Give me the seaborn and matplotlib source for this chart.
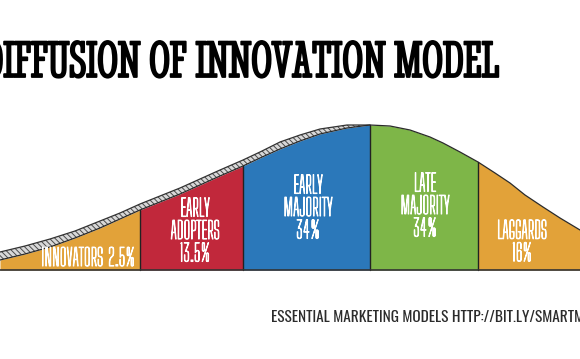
import matplotlib
matplotlib.use("Agg")
import matplotlib.pyplot as plt
import matplotlib.patheffects as pe
import seaborn as sns

# adoption curve: position along the adoption axis and curve height
curve_x = [0, 25, 50, 75, 100, 120, 140, 160, 180, 200, 220, 243, 260, 280, 300, 320, 347, 370,
           390, 410, 430, 443, 460, 478, 495, 510, 525, 543, 560, 580]
curve_h = [10, 16, 23, 32, 42, 51, 60, 68, 76, 85, 94, 104, 112, 121, 129, 136, 142, 145,
           144, 140, 133, 127, 118, 108, 97, 87, 75, 63, 52, 40]
# thickness of the rope-like band on the rising side (0 once past the peak)
band_t = [8, 8, 8, 7, 7, 6, 6, 6, 6, 6, 6, 6, 6, 7, 6, 5, 3, 0,
          0, 0, 0, 0, 0, 0, 0, 0, 0, 0, 0, 0]

# segments of the adopter population
bounds = [0, 140, 243, 370, 478, 580]
groups = ["INNOVATORS", "EARLY\nADOPTERS", "EARLY\nMAJORITY", "LATE\nMAJORITY", "LAGGARDS"]
shares = ["2.5%", "13.5%", "34%", "34%", "16%"]
colors = ["#E2A239", "#C1283B", "#2B78BA", "#7EB648", "#E2A239"]

title = "DIFFUSION OF INNOVATION MODEL"
footer = "ESSENTIAL MARKETING MODELS HTTP://BIT.LY/SMARTM"

sns.set_style("white")
plt.rcParams["hatch.linewidth"] = 0.7

fig = plt.figure(figsize=(5.8, 3.59), dpi=100)
ax = fig.add_axes([0, 0, 1, 1])
ax.set_xlim(0, 580)
ax.set_ylim(-89, 270)
ax.axis("off")

# coloured segments under the curve
for i, c in enumerate(colors):
    lo, hi = bounds[i], bounds[i + 1]
    xs = [x for x in curve_x if lo <= x <= hi]
    hs = [h for x, h in zip(curve_x, curve_h) if lo <= x <= hi]
    ax.fill_between(xs, 0, hs, color=c, linewidth=0, zorder=2)

# rope band on the left half
top = [h + t for h, t in zip(curve_h, band_t)]
n_band = band_t.index(0) + 1
ax.fill_between(curve_x[:n_band], curve_h[:n_band], top[:n_band], facecolor="#d8d8d8",
                edgecolor="#4a4a4a", hatch="\\\\\\\\\\\\", linewidth=0, zorder=3)
ax.plot(curve_x[:n_band], top[:n_band], color="#333333", lw=0.9, zorder=4)

# curve outline, dividers and baseline
sns.lineplot(x=curve_x, y=curve_h, color="#2a2a2a", lw=0.9, ax=ax, zorder=4)
for b in bounds[1:-1]:
    ax.plot([b, b], [0, curve_h[curve_x.index(b)]], color="#222222", lw=1.0, zorder=4)
ax.plot([0, 580], [0, 0], color="#333333", lw=1.2, zorder=4)

# segment labels
label_x = [88, 195, 308, 425, 522]
label_y = [11, 38, 61, 63, 27]
for i, (g, s) in enumerate(zip(groups, shares)):
    txt = f"{g} {s}" if i == 0 else f"{g}\n{s}"
    ax.text(label_x[i], label_y[i], txt, ha="center", va="center", color="white",
            family="Big Shoulders Display", fontsize=17, linespacing=0.92, zorder=5,
            path_effects=[pe.withStroke(linewidth=0.8, foreground="white")])

ax.text(497, 193, title, ha="right", va="baseline", family="Stint Ultra Condensed",
        fontsize=38, color="black", zorder=5,
        path_effects=[pe.withStroke(linewidth=1.3, foreground="black")])
ax.text(271, -52, footer, ha="left", va="baseline", family="Oswald", fontsize=11,
        color="#2b2b2b", zorder=5)

fig.savefig("out.png", dpi=100)
